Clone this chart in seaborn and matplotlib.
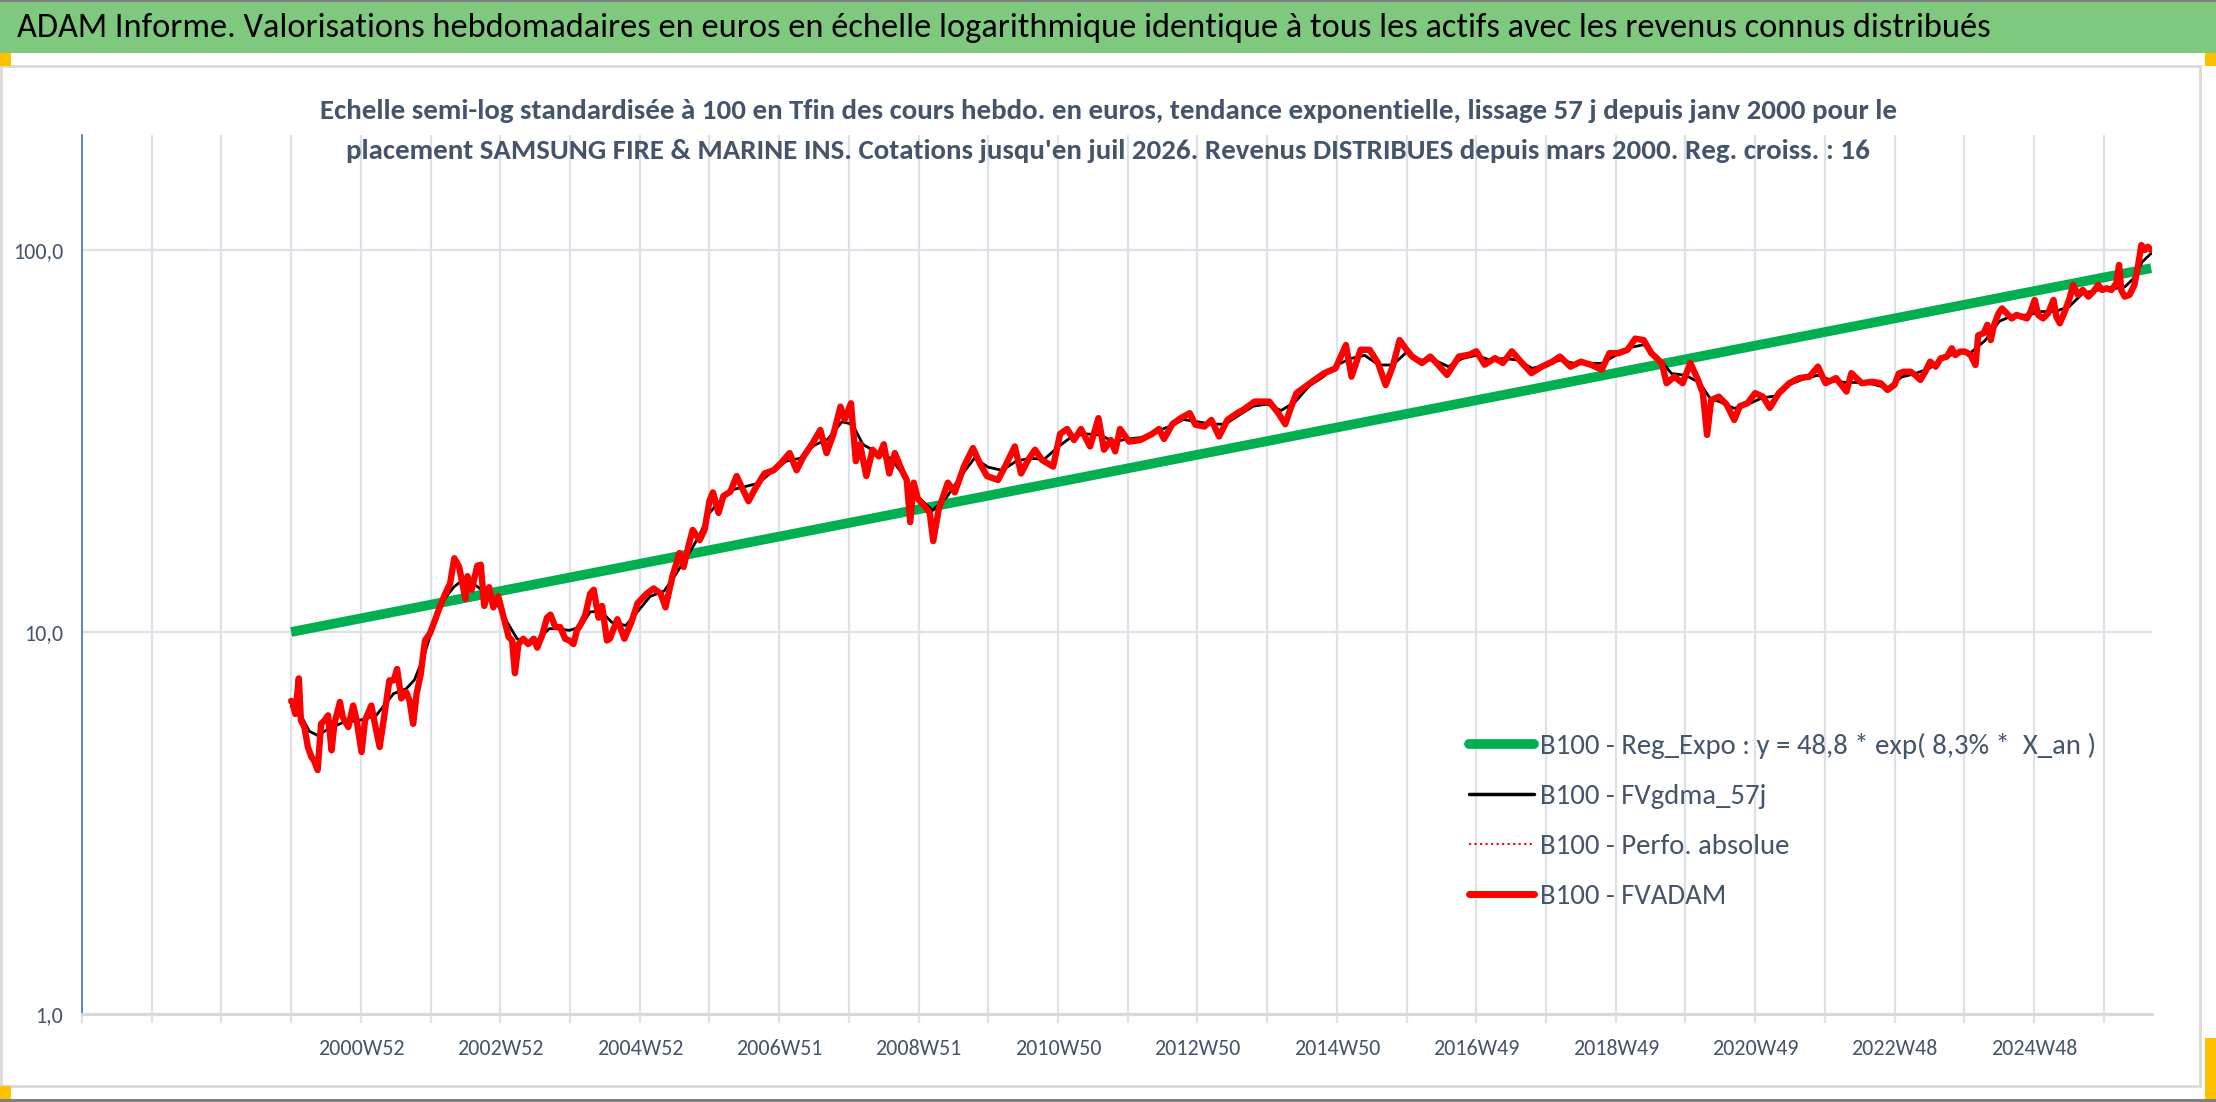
import numpy as np
import pandas as pd
import matplotlib
matplotlib.use("Agg")
import matplotlib.pyplot as plt
import seaborn as sns
from matplotlib import font_manager as fm
from matplotlib.lines import Line2D
from matplotlib.patches import Rectangle
from matplotlib.ticker import FixedLocator, NullLocator

# ------------------------------------------------------------
# Data (time in 52-week units from 1997)
# ------------------------------------------------------------
t_fvadam = [
    2000.00, 2000.02, 2000.06, 2000.11, 2000.14, 2000.19, 2000.24, 2000.29, 2000.33, 2000.38,
    2000.43, 2000.48, 2000.53, 2000.58, 2000.62, 2000.70, 2000.74, 2000.82, 2000.89, 2000.94,
    2001.01, 2001.06, 2001.15, 2001.21, 2001.27, 2001.34, 2001.41, 2001.47, 2001.52, 2001.58,
    2001.65, 2001.70, 2001.75, 2001.80, 2001.86, 2001.92, 2001.99, 2002.06, 2002.13, 2002.21,
    2002.28, 2002.34, 2002.41, 2002.50, 2002.53, 2002.59, 2002.67, 2002.72, 2002.77, 2002.84,
    2002.90, 2002.97, 2003.05, 2003.12, 2003.17, 2003.21, 2003.26, 2003.33, 2003.40, 2003.48,
    2003.53, 2003.60, 2003.67, 2003.72, 2003.79, 2003.86, 2003.93, 2003.99, 2004.05, 2004.10,
    2004.17, 2004.22, 2004.29, 2004.34, 2004.41, 2004.46, 2004.53, 2004.57, 2004.68, 2004.78,
    2004.88, 2004.97, 2005.10, 2005.20, 2005.30, 2005.37, 2005.47, 2005.57, 2005.63, 2005.70,
    2005.76, 2005.86, 2005.93, 2006.00, 2006.05, 2006.13, 2006.20, 2006.30, 2006.39, 2006.46,
    2006.56, 2006.66, 2006.79, 2006.92, 2007.02, 2007.15, 2007.25, 2007.35, 2007.48, 2007.59,
    2007.68, 2007.78, 2007.88, 2007.94, 2008.03, 2008.10, 2008.16, 2008.25, 2008.34, 2008.43,
    2008.50, 2008.58, 2008.66, 2008.76, 2008.83, 2008.88, 2008.93, 2008.99, 2009.09, 2009.16,
    2009.21, 2009.29, 2009.42, 2009.52, 2009.65, 2009.78, 2009.88, 2009.98, 2010.14, 2010.24,
    2010.38, 2010.47, 2010.57, 2010.67, 2010.77, 2010.93, 2011.03, 2011.13, 2011.23, 2011.33,
    2011.46, 2011.58, 2011.66, 2011.76, 2011.82, 2011.89, 2012.02, 2012.18, 2012.35, 2012.45,
    2012.52, 2012.64, 2012.76, 2012.89, 2012.97, 2013.10, 2013.20, 2013.31, 2013.43, 2013.57,
    2013.66, 2013.82, 2014.03, 2014.16, 2014.26, 2014.33, 2014.42, 2014.55, 2014.68, 2014.82,
    2014.98, 2015.13, 2015.21, 2015.34, 2015.47, 2015.59, 2015.70, 2015.80, 2015.90, 2016.00,
    2016.08, 2016.22, 2016.34, 2016.45, 2016.58, 2016.75, 2016.90, 2017.00, 2017.12, 2017.27,
    2017.38, 2017.51, 2017.64, 2017.79, 2017.94, 2018.09, 2018.20, 2018.35, 2018.50, 2018.64,
    2018.80, 2018.91, 2019.04, 2019.17, 2019.28, 2019.40, 2019.51, 2019.66, 2019.73, 2019.84,
    2019.96, 2020.07, 2020.18, 2020.25, 2020.31, 2020.37, 2020.48, 2020.59, 2020.70, 2020.78,
    2020.89, 2021.00, 2021.11, 2021.21, 2021.34, 2021.49, 2021.63, 2021.78, 2021.90, 2022.01,
    2022.16, 2022.31, 2022.38, 2022.53, 2022.68, 2022.80, 2022.90, 2023.00, 2023.06, 2023.13,
    2023.23, 2023.30, 2023.37, 2023.44, 2023.51, 2023.59, 2023.66, 2023.75, 2023.82, 2023.87,
    2023.94, 2024.01, 2024.09, 2024.16, 2024.20, 2024.28, 2024.33, 2024.38, 2024.42, 2024.49,
    2024.54, 2024.61, 2024.68, 2024.75, 2024.82, 2024.90, 2024.95, 2025.01, 2025.06, 2025.13,
    2025.20, 2025.28, 2025.32, 2025.37, 2025.44, 2025.51, 2025.56, 2025.63, 2025.70, 2025.78,
    2025.85, 2025.92, 2025.98, 2026.04, 2026.11, 2026.18, 2026.22, 2026.25, 2026.30, 2026.37,
    2026.44, 2026.49, 2026.54, 2026.59, 2026.63, 2026.68,
]
fvadam = [
    6.6, 6.56, 6.1, 7.56, 5.87, 5.64, 5.0, 4.71, 4.6, 4.35,
    5.75, 5.87, 6.05, 4.9, 5.75, 6.56, 5.98, 5.64, 6.42, 5.87,
    4.85, 5.87, 6.42, 5.64, 5.0, 6.1, 7.47, 7.47, 8.0, 6.7,
    6.96, 6.6, 5.75, 6.9, 7.78, 9.5, 9.9, 10.7, 11.6, 12.6,
    13.4, 15.6, 14.8, 12.2, 14.0, 12.9, 14.9, 15.0, 11.7, 13.1,
    11.6, 12.4, 10.9, 9.7, 9.5, 7.8, 9.3, 9.6, 9.3, 9.6,
    9.1, 9.8, 10.9, 11.1, 10.3, 10.3, 9.6, 9.5, 9.3, 10.1,
    10.6, 11.1, 12.6, 12.9, 10.9, 11.7, 9.5, 9.6, 10.8, 9.6,
    10.6, 11.9, 12.6, 13.0, 12.6, 11.6, 14.0, 16.1, 14.8, 16.8,
    18.5, 17.4, 18.5, 22.0, 23.2, 20.5, 22.7, 23.3, 25.6, 24.0,
    22.0, 23.8, 26.0, 26.5, 27.6, 29.4, 26.5, 28.8, 31.2, 33.8,
    29.4, 33.0, 38.9, 36.0, 39.7, 28.0, 31.0, 25.6, 30.0, 28.8,
    31.0, 26.0, 29.4, 26.5, 25.0, 19.4, 24.6, 22.3, 21.3, 20.5,
    17.3, 21.0, 24.6, 23.2, 27.1, 30.3, 27.6, 25.6, 25.0, 27.1,
    30.6, 26.0, 28.2, 30.0, 28.2, 27.1, 33.0, 34.0, 31.8, 34.0,
    30.6, 36.3, 30.0, 31.8, 29.7, 34.0, 31.5, 31.8, 33.0, 34.0,
    32.0, 35.0, 36.3, 37.4, 34.9, 34.5, 35.9, 32.5, 35.9, 37.4,
    38.2, 40.1, 40.1, 37.4, 35.0, 38.2, 42.2, 43.9, 45.7, 47.6,
    49.0, 56.4, 46.6, 54.8, 54.8, 50.6, 44.3, 49.5, 58.1, 54.8,
    52.6, 50.6, 52.6, 50.1, 47.1, 52.6, 53.2, 54.3, 50.1, 52.1,
    50.6, 54.3, 51.0, 47.6, 49.5, 51.0, 52.6, 49.5, 51.0, 50.1,
    48.6, 53.7, 53.7, 54.8, 58.6, 58.1, 53.7, 50.6, 44.8, 46.6,
    44.8, 50.6, 45.7, 42.2, 32.8, 40.5, 41.3, 39.4, 35.9, 39.0,
    39.7, 42.2, 41.3, 38.6, 42.2, 44.8, 46.2, 46.6, 49.5, 44.8,
    46.2, 42.6, 47.6, 44.8, 45.2, 44.8, 43.0, 44.4, 47.5, 48.0,
    48.0, 47.0, 45.7, 48.0, 51.0, 49.5, 52.0, 52.6, 55.3, 53.1,
    54.2, 54.2, 53.1, 50.0, 59.8, 60.6, 63.7, 58.1, 63.1, 68.2,
    70.3, 68.2, 66.2, 67.6, 66.9, 66.2, 68.9, 74.0, 67.6, 66.2,
    68.2, 74.0, 66.9, 64.3, 68.9, 74.7, 81.0, 76.3, 78.6, 75.5,
    77.8, 81.0, 78.6, 79.4, 78.6, 81.8, 91.4, 78.6, 75.5, 76.3,
    81.0, 90.5, 103.0, 100.0, 102.0, 100.0,
]

# smoothed 57-day series (mostly hidden under the red line)
t_gdma = [
    2000.00, 2000.15, 2000.26, 2000.38, 2000.55, 2000.75, 2000.98, 2001.22, 2001.47, 2001.65,
    2001.77, 2001.90, 2002.06, 2002.20, 2002.33, 2002.42, 2002.55, 2002.66, 2002.80, 2002.95,
    2003.10, 2003.24, 2003.40, 2003.53, 2003.70, 2003.81, 2003.99, 2004.15, 2004.29, 2004.45,
    2004.60, 2004.80, 2004.95, 2005.15, 2005.35, 2005.50, 2005.70, 2005.85, 2006.00, 2006.15,
    2006.30, 2006.50, 2006.70, 2006.90, 2007.10, 2007.30, 2007.50, 2007.70, 2007.90, 2008.05,
    2008.20, 2008.40, 2008.60, 2008.80, 2008.95, 2009.20, 2009.40, 2009.60, 2009.80, 2010.00,
    2010.20, 2010.40, 2010.60, 2010.80, 2011.00, 2011.20, 2011.40, 2011.60, 2011.80, 2012.00,
    2012.20, 2012.40, 2012.60, 2012.80, 2013.00, 2013.20, 2013.40, 2013.60, 2013.80, 2014.00,
    2014.20, 2014.40, 2014.60, 2014.80, 2015.00, 2015.20, 2015.40, 2015.60, 2015.80, 2016.00,
    2016.20, 2016.40, 2016.60, 2016.80, 2017.00, 2017.20, 2017.40, 2017.60, 2017.80, 2018.00,
    2018.20, 2018.40, 2018.60, 2018.80, 2019.00, 2019.20, 2019.40, 2019.60, 2019.80, 2020.00,
    2020.20, 2020.35, 2020.50, 2020.70, 2020.90, 2021.10, 2021.30, 2021.50, 2021.70, 2021.90,
    2022.10, 2022.30, 2022.50, 2022.70, 2022.90, 2023.10, 2023.30, 2023.50, 2023.70, 2023.90,
    2024.10, 2024.30, 2024.50, 2024.70, 2024.90, 2025.10, 2025.30, 2025.50, 2025.70, 2025.90,
    2026.10, 2026.30, 2026.45, 2026.55, 2026.68,
]
fvgdma = [
    6.4, 6.0, 5.5, 5.36, 5.6, 5.8, 5.87, 6.05, 6.9, 7.1,
    7.5, 8.6, 10.7, 12.2, 13.1, 13.5, 13.4, 13.2, 12.6, 11.9,
    10.6, 9.6, 9.4, 9.5, 10.2, 10.2, 10.1, 10.3, 11.3, 11.3,
    10.6, 10.4, 11.2, 12.4, 12.8, 14.0, 16.0, 17.8, 20.5, 22.0,
    23.5, 24.0, 24.5, 26.3, 28.0, 28.5, 30.8, 32.0, 35.5, 35.0,
    31.0, 29.5, 28.5, 25.5, 23.0, 20.8, 22.5, 25.5, 28.5, 27.0,
    26.5, 28.0, 28.5, 28.3, 30.5, 32.5, 33.0, 32.8, 31.5, 32.0,
    32.3, 33.5, 34.5, 36.0, 35.5, 35.0, 35.0, 37.0, 39.0, 39.5,
    38.0, 40.0, 44.0, 46.5, 50.0, 52.0, 53.0, 50.0, 50.0, 54.0,
    51.5, 51.5, 49.5, 52.0, 53.0, 51.5, 52.0, 51.5, 49.0, 50.0,
    51.5, 50.5, 50.5, 50.5, 53.0, 55.5, 56.5, 52.5, 47.5, 47.0,
    45.0, 41.0, 40.0, 38.5, 39.5, 41.0, 41.5, 44.5, 46.0, 47.0,
    45.5, 45.0, 45.0, 44.5, 43.5, 46.5, 47.5, 49.0, 52.0, 54.0,
    54.0, 58.0, 65.0, 67.5, 67.5, 69.0, 69.0, 71.0, 77.0, 78.5,
    79.0, 80.0, 85.0, 93.0, 98.0,
]

# exponential regression: end points read on the chart
t_reg = [2000.00, 2026.68]
reg_expo = [10.0, 89.6]

x_labels = ["2000W52", "2002W52", "2004W52", "2006W51", "2008W51", "2010W50", "2012W50",
            "2014W50", "2016W49", "2018W49", "2020W49", "2022W48", "2024W48"]
y_ticks = [1, 10, 100]
y_labels = ["1,0", "10,0", "100,0"]

legend_labels = [
    "B100 - Reg_Expo : y = 48,8 * exp( 8,3% *  X_an )",
    "B100 - FVgdma_57j",
    "B100 - Perfo. absolue",
    "B100 - FVADAM",
]

titre = ("ADAM Informe. Valorisations hebdomadaires en euros en échelle logarithmique "
         "identique à tous les actifs avec les revenus connus distribués")
sous_titre_1 = ("Echelle semi-log standardisée à 100 en Tfin des cours hebdo. en euros, tendance "
                "exponentielle, lissage 57 j depuis janv 2000 pour le")
sous_titre_2 = ("placement SAMSUNG FIRE & MARINE INS. Cotations jusqu'en juil 2026. Revenus "
                "DISTRIBUES depuis mars 2000. Reg. croiss. : 16")


def to_week(t):
    # category index: one category per week, 52 per grid step, origin 1997
    return (np.asarray(t) - 1997.0) * 52.0


# pick a narrow humanist face if one is around (Calibri look-alike first)
installed = {f.name for f in fm.fontManager.ttflist}
police = "DejaVu Sans"
for cand in ["Carlito", "Roboto Condensed", "Open Sans Condensed", "Noto Sans"]:
    if cand in installed:
        police = cand
        break

W, H = 2216, 1102
sns.set_theme(style="white")
plt.rcParams["font.family"] = [police, "DejaVu Sans"]

fig = plt.figure(figsize=(W / 100, H / 100), dpi=100)
fig.patch.set_facecolor("white")
rend = fig.canvas.get_renderer()


def rect(x0, y0, x1, y1, **kw):
    fig.add_artist(Rectangle((x0 / W, 1 - y1 / H), (x1 - x0) / W, (y1 - y0) / H,
                             transform=fig.transFigure, **kw))


def size_for(text, width_px, weight="normal", base=20.0):
    # font size giving the width measured on the reference
    p = fig.text(0, 0, text, fontsize=base, fontweight=weight)
    bb = p.get_window_extent(rend)
    p.remove()
    return base * width_px / bb.width, bb.height * width_px / bb.width


# frame decorations (header band, chart area border, selection handles)
rect(0, 0, W, 2, facecolor="#7F7F7F", edgecolor="none")
rect(0, 2, W, 53, facecolor="#7FC97F", edgecolor="none")
rect(1, 66, 2200, 1086, facecolor="none", edgecolor="#D9D9D9", linewidth=2)
rect(0, 53, 11, 66, facecolor="#FFC000", edgecolor="none")
rect(2205, 53, W, 66, facecolor="#FFC000", edgecolor="none")
rect(0, 1086, 11, 1099, facecolor="#FFC000", edgecolor="none")
rect(2205, 1038, W, 1099, facecolor="#FFC000", edgecolor="none")
rect(0, 1099, W, H, facecolor="#7F7F7F", edgecolor="none")

fs_titre, _ = size_for(titre, 1971)
fs_sous, _ = size_for(sous_titre_1, 1579, weight="bold")
fs_x, _ = size_for("2000W52", 86)
fs_y, _ = size_for("100,0", 50)
fs_leg, h_leg = size_for(legend_labels[0], 556)

fig.text(17 / W, 1 - 28 / H, titre, fontsize=fs_titre, color="black", ha="left", va="center")
fig.text(1108 / W, 1 - 111 / H, sous_titre_1, fontsize=fs_sous, fontweight="bold",
         color="#44546A", ha="center", va="center")
fig.text(1108 / W, 1 - 151 / H, sous_titre_2, fontsize=fs_sous, fontweight="bold",
         color="#44546A", ha="center", va="center")

ax = fig.add_axes([82 / W, 1 - 1014 / H, (2152 - 82) / W, (1014 - 135) / H])
ax.set_facecolor("none")

df_reg = pd.DataFrame({"semaine": to_week(t_reg), "valeur": reg_expo})
df_gdma = pd.DataFrame({"semaine": to_week(t_gdma), "valeur": fvgdma})
df_fv = pd.DataFrame({"semaine": to_week(t_fvadam), "valeur": fvadam})

sns.lineplot(data=df_reg, x="semaine", y="valeur", ax=ax, color="#00B050", linewidth=7,
             solid_capstyle="butt", zorder=3)
sns.lineplot(data=df_gdma, x="semaine", y="valeur", ax=ax, color="black", linewidth=2.0, zorder=4)
sns.lineplot(data=df_fv, x="semaine", y="valeur", ax=ax, color="#FF0000", linewidth=1,
             linestyle=":", zorder=4)
sns.lineplot(data=df_fv, x="semaine", y="valeur", ax=ax, color="#FF0000", linewidth=4.6,
             zorder=5)

ax.set_yscale("log")
ax.set_ylim(1, 200)
ax.set_xlim(0, 1544)

grid_pos = np.arange(0, 1545, 52)
lab_map = {208 + 104 * i: lab for i, lab in enumerate(x_labels)}
ax.xaxis.set_major_locator(FixedLocator(grid_pos))
ax.set_xticklabels([lab_map.get(int(p), "") for p in grid_pos])
ax.yaxis.set_major_locator(FixedLocator(y_ticks))
ax.yaxis.set_minor_locator(NullLocator())
ax.set_yticklabels(y_labels)

ax.grid(True, which="major", color="#DDE1E8", linewidth=1.6)
ax.tick_params(axis="x", length=6.5, width=1.6, color="#DDE1E8", pad=11.5,
               labelsize=fs_x, labelcolor="#44546A", bottom=True)
ax.tick_params(axis="y", length=0, pad=13.7, labelsize=fs_y, labelcolor="#44546A")
ax.set_xlabel("")
ax.set_ylabel("")

for s in ["top", "right"]:
    ax.spines[s].set_visible(False)
ax.spines["left"].set_color("#4472C4")
ax.spines["left"].set_linewidth(1.2)
ax.spines["bottom"].set_color("#D9D9D9")
ax.spines["bottom"].set_linewidth(2.2)

# legend: rows about 50 px apart, first row centred at y = 746
em = fs_leg * 100 / 72
handles = [
    Line2D([], [], color="#00B050", linewidth=7),
    Line2D([], [], color="black", linewidth=2.5),
    Line2D([], [], color="#FF0000", linewidth=1.5, linestyle=":"),
    Line2D([], [], color="#FF0000", linewidth=5),
]
leg = ax.legend(handles, legend_labels, loc="upper left",
                bbox_to_anchor=(1469 / W, 1 - (746 - h_leg / 2) / H),
                bbox_transform=fig.transFigure, frameon=False, fontsize=fs_leg,
                handlelength=65 / em, handletextpad=6 / em,
                labelspacing=(52 - h_leg) / em, borderpad=0, borderaxespad=0)
for txt in leg.get_texts():
    txt.set_color("#44546A")

fig.savefig("out.png", dpi=100)
